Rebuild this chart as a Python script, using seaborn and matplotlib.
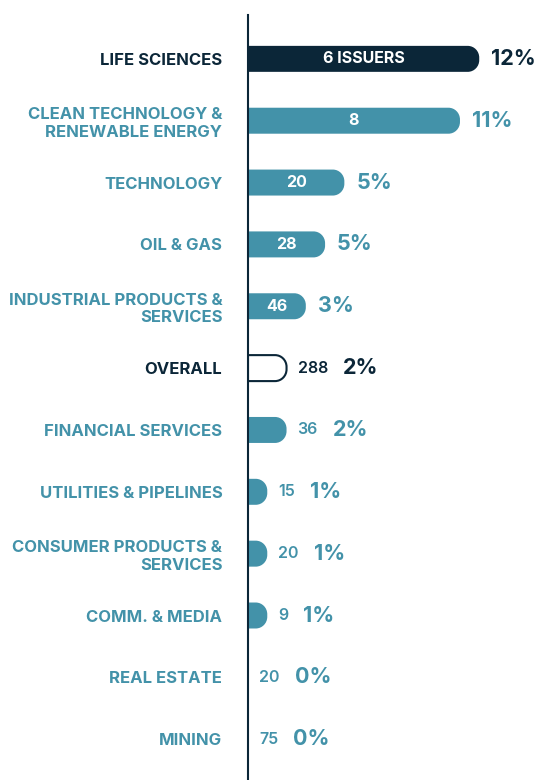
import numpy as np
import pandas as pd
import seaborn as sns
import matplotlib
matplotlib.use("Agg")
import matplotlib.pyplot as plt
from matplotlib.path import Path
from matplotlib.patches import PathPatch

# ---------------- data ----------------
sectors = [
    "LIFE SCIENCES",
    "CLEAN TECHNOLOGY &\nRENEWABLE ENERGY",
    "TECHNOLOGY",
    "OIL & GAS",
    "INDUSTRIAL PRODUCTS &\nSERVICES",
    "OVERALL",
    "FINANCIAL SERVICES",
    "UTILITIES & PIPELINES",
    "CONSUMER PRODUCTS &\nSERVICES",
    "COMM. & MEDIA",
    "REAL ESTATE",
    "MINING",
]
share_pct = [12.0, 11.0, 5.0, 4.0, 3.0, 2.0, 2.0, 1.0, 1.0, 1.0, 0.0, 0.0]
pct_labels = ["12%", "11%", "5%", "5%", "3%", "2%", "2%", "1%", "1%", "1%", "0%", "0%"]
issuers = [6, 8, 20, 28, 46, 288, 36, 15, 20, 9, 20, 75]
highlight = ["LIFE SCIENCES", "OVERALL"]
outline_only = ["OVERALL"]

# ---------------- style ----------------
NAVY = "#0b2638"
TEAL = "#4392a9"
FONT = ["Inter", "DejaVu Sans"]

sns.set_theme(style="white")
plt.rcParams["font.family"] = FONT

df = pd.DataFrame({"sector": sectors, "share": share_pct})
colors = {s: (NAVY if s in highlight else TEAL) for s in sectors}

W, H, DPI = 538, 780, 100
fig = plt.figure(figsize=(W / DPI, H / DPI), dpi=DPI)
ax_left, ax_top = 248, 15
ax = fig.add_axes([ax_left / W, 0, (W - ax_left) / W, (H - ax_top) / H])

sns.barplot(data=df, x="share", y="sector", hue="sector", palette=colors,
            orient="h", width=0.42, legend=False, ax=ax)

px_per_pct = 19.27
ax.set_xlim(0, (W - ax_left) / px_per_pct)
row_px = (H - 58 - ax_top - 40) / 11.0
ax.set_ylim(11 + 40 / row_px, -43 / row_px)

ppx = px_per_pct
ppy = row_px

# replace bars with right-rounded versions
bars = list(ax.patches)
for i, p in enumerate(bars):
    x0 = p.get_x()
    w = p.get_width()
    y0 = p.get_y()
    h = p.get_height()
    p.remove()
    if w <= 0:
        continue
    r = min(11.5, w * ppx, h * ppy / 2)
    rx, ry = r / ppx, r / ppy
    k = 0.5523
    x1 = x0 + w
    ya, yb = y0, y0 + h
    verts = [
        (x0, ya), (x1 - rx, ya),
        (x1 - rx + k * rx, ya), (x1, ya + ry - k * ry), (x1, ya + ry),
        (x1, yb - ry),
        (x1, yb - ry + k * ry), (x1 - rx + k * rx, yb), (x1 - rx, yb),
        (x0, yb), (x0, ya),
    ]
    codes = [Path.MOVETO, Path.LINETO,
             Path.CURVE4, Path.CURVE4, Path.CURVE4,
             Path.LINETO,
             Path.CURVE4, Path.CURVE4, Path.CURVE4,
             Path.LINETO, Path.CLOSEPOLY]
    s = sectors[i]
    if s in outline_only:
        pp = PathPatch(Path(verts, codes), facecolor="white", edgecolor=NAVY,
                       lw=1.5, zorder=2)
    else:
        pp = PathPatch(Path(verts, codes), facecolor=colors[s], edgecolor="none",
                       zorder=2)
    ax.add_patch(pp)

# labels
for i, (s, v, n, pl) in enumerate(zip(sectors, share_pct, issuers, pct_labels)):
    c = colors[s]
    inside = v >= 3 and s not in outline_only
    if inside:
        txt = f"{n} ISSUERS" if i == 0 else f"{n}"
        ax.text(v / 2, i, txt, ha="center", va="center", color="white",
                fontsize=11.5, fontweight="bold", zorder=3)
        ax.annotate(pl, xy=(v, i), xytext=(12, 0), textcoords="offset pixels",
                    ha="left", va="center", color=c, fontsize=15.5,
                    fontweight="bold")
    else:
        t = ax.annotate(f"{n}", xy=(v, i), xytext=(11, 0),
                        textcoords="offset pixels", ha="left", va="center",
                        color=c, fontsize=11.5, fontweight="semibold")
        ax.annotate(pl, xy=(1, 0.5), xycoords=t, xytext=(15, 0),
                    textcoords="offset pixels", ha="left", va="center",
                    color=c, fontsize=15.5, fontweight="bold")

# axes styling
ax.set_xlabel("")
ax.set_ylabel("")
ax.set_xticks([])
ax.set_yticks(range(len(sectors)))
ax.set_yticklabels(sectors)
ax.tick_params(axis="y", length=0, pad=18.5)
for lab, s in zip(ax.get_yticklabels(), sectors):
    lab.set_color(colors[s])
    lab.set_fontweight("bold")
    lab.set_fontsize(12)
    lab.set_multialignment("right")
    lab.set_linespacing(1.2)
for side in ["top", "right", "bottom"]:
    ax.spines[side].set_visible(False)
ax.spines["left"].set_color(NAVY)
ax.spines["left"].set_linewidth(1.5)
ax.spines["left"].set_zorder(4)
ax.set_facecolor("white")
fig.patch.set_facecolor("white")

fig.savefig("out.png", dpi=DPI)
